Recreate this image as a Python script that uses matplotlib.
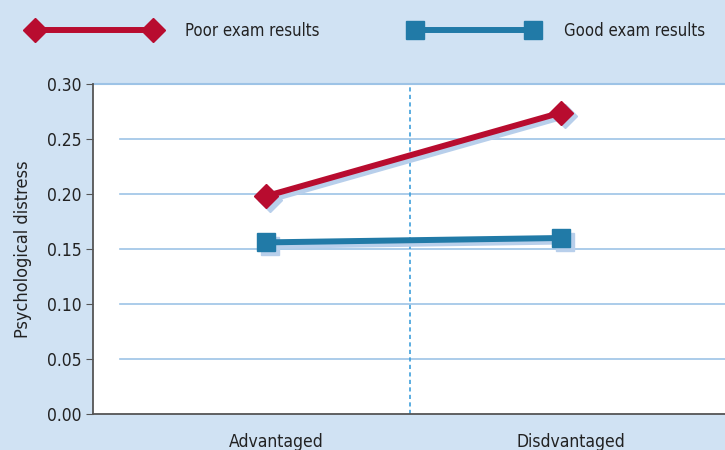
import numpy as np
from matplotlib import pyplot as plt
from matplotlib.transforms import offset_copy

# data
groups = ['Advantaged', 'Disdvantaged']
poor = [0.198, 0.274]
good = [0.156, 0.160]
yticks = [0.00, 0.05, 0.10, 0.15, 0.20, 0.25, 0.30]

bg = '#d0e2f3'
red = '#b80c2f'
blue = '#217aa7'
shadow = '#b8cfeb'
txt = '#222222'

plt.rcParams['font.family'] = ['DejaVu Sans']
plt.rcParams['font.stretch'] = 'condensed'

fig = plt.figure(figsize=(7.25, 4.5), dpi=100, facecolor=bg)
ax = fig.add_axes([93 / 725, 36 / 450, 632 / 725, 330 / 450])
ax.set_facecolor('white')

x = np.arange(len(groups))
# soft drop shadow behind each series
sh = offset_copy(ax.transData, fig=fig, x=4, y=-3.5, units='dots')
ax.plot(x, poor, color=shadow, lw=4.3, marker='D', ms=12, transform=sh, zorder=2)
ax.plot(x, good, color=shadow, lw=4.3, marker='s', ms=13, transform=sh, zorder=2)
ax.plot(x, poor, color=red, lw=4.3, marker='D', ms=12, label='Poor exam results', zorder=4)
ax.plot(x, good, color=blue, lw=4.3, marker='s', ms=13, label='Good exam results', zorder=3)

# light gridlines that stop short of the left axis
for y in yticks[1:-1]:
    ax.axhline(y, xmin=0.043, color='#9dc3e6', lw=1.2, zorder=1)
ax.axhline(0.30, color='#9dc3e6', lw=1.5, zorder=1, clip_on=False)
ax.axvline(0.49, color='#3fa0dc', lw=1.2, ls=(0, (2.5, 2)), zorder=1)

ax.set_xlim(-0.586, 1.556)
ax.set_ylim(0, 0.30)
ax.set_yticks(yticks)
ax.set_yticklabels([f'{v:.2f}' for v in yticks], fontsize=12.5, color=txt)
ax.set_xticks(x + 0.035)
ax.set_xticklabels(groups, fontsize=12.5, color=txt)
ax.tick_params(axis='x', length=0, pad=14)
ax.tick_params(axis='y', length=5, color='#555555', pad=3)
ax.set_ylabel('Psychological distress', fontsize=13, color=txt, labelpad=11)

for s in ['top', 'right']:
    ax.spines[s].set_visible(False)
for s in ['left', 'bottom']:
    ax.spines[s].set_color('#555555')
    ax.spines[s].set_linewidth(1.3)

fig.legend(loc='upper left', bbox_to_anchor=(15 / 725, 1 - 7 / 450), ncol=2,
           frameon=False, fontsize=12, handlelength=7.7, numpoints=2,
           columnspacing=5.4, handletextpad=1.6, labelcolor=txt)

plt.savefig('out.png', dpi=100, facecolor=bg)
